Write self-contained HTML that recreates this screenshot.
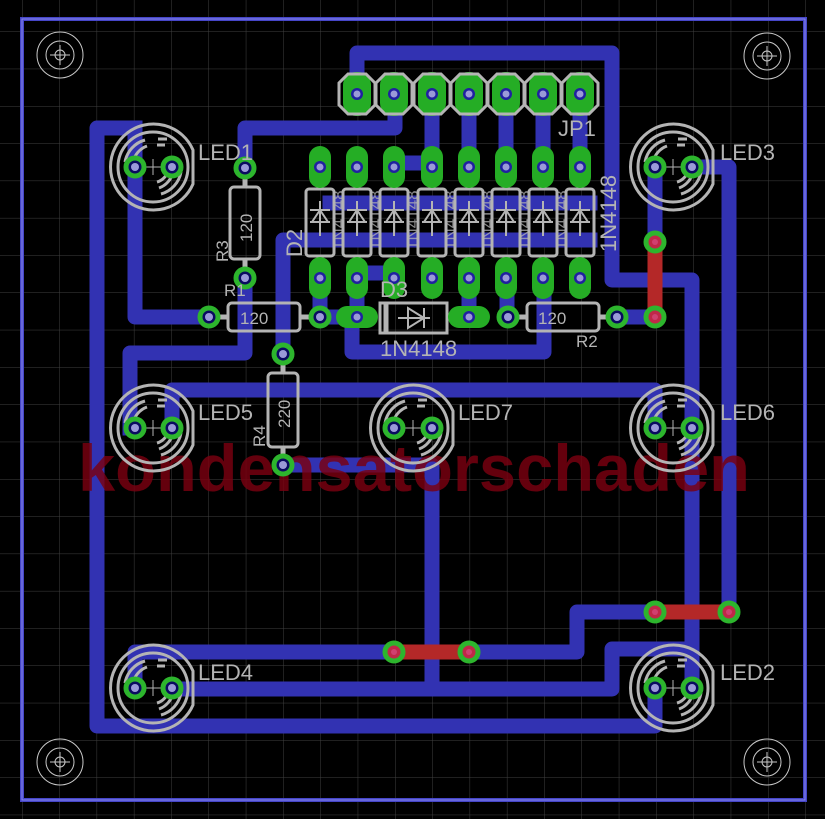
<!DOCTYPE html>
<html><head><meta charset="utf-8"><style>
html,body{margin:0;padding:0;background:#000;}
svg{display:block;}
text{font-family:"Liberation Sans",sans-serif;}
</style></head><body>
<svg width="825" height="819" viewBox="0 0 825 819" xmlns="http://www.w3.org/2000/svg">
<defs>
<pattern id="g" x="22" y="31.4" width="37.3" height="37.3" patternUnits="userSpaceOnUse">
<path d="M0 0V37.3M0 0H37.3" stroke="#404040" stroke-width="1" fill="none"/>
</pattern>
<g id="led" fill="none" stroke="#b4b4b4" stroke-width="3">
<path d="M40 -17 A43 43 0 1 0 40 17 Z"/>
<circle r="35"/>
<path d="M-8 -27 A28 28 0 0 0 -28 -5" /><path d="M-6 -21 A22 22 0 0 0 -20 -5"/>
<path d="M5 -28 L14 -28"/><path d="M4 -22 L12 -22"/>
<path d="M8 27 A28 28 0 0 0 28 5"/><path d="M6 21 A22 22 0 0 0 20 5"/><path d="M4 15 A16 16 0 0 0 15 4"/>
<path d="M-8 0H8M0 -8V8" stroke-width="1"/>
</g>
<g id="hole" fill="none" stroke="#c8c8c8" stroke-width="1">
<circle r="23"/><circle r="14"/><circle r="5"/><path d="M-10 0H10M0 -10V10"/>
</g>
<g id="pad"><circle r="9" fill="#0a0a60" stroke="#2db52d" stroke-width="5"/><circle r="4" fill="#9a9ad8"/></g>
<g id="via"><circle r="9" fill="#c02848" stroke="#2db52d" stroke-width="5"/><circle r="3" fill="#d04070"/></g>
<g id="opad"><rect x="-11" y="-21" width="22" height="42" rx="11" fill="#25ad25"/><circle r="6" fill="#2020a0"/><circle r="3.5" fill="#9a9ad8"/></g>
<g id="hpad"><rect x="-21" y="-11" width="42" height="22" rx="11" fill="#25ad25"/><circle r="6" fill="#2020a0"/><circle r="3.5" fill="#9a9ad8"/></g>
<g id="jpad"><rect x="-14" y="-22" width="28" height="44" rx="13" fill="#25ad25"/><circle r="6" fill="#2020a0"/><circle r="3.5" fill="#9a9ad8"/>
<path d="M-9 -20L9 -20L18 -11L18 11L9 20L-9 20L-18 11L-18 -11Z" fill="none" stroke="#b4b4b4" stroke-width="3"/></g>
<g id="diode" fill="none" stroke="#b4b4b4" stroke-width="3">
<rect x="-14" y="-34" width="28" height="67" rx="3"/>
<path d="M-10 -13H10M0 -13L-8 -1H8Z M-10 -1H10 M0 -22V13" stroke-width="2"/>
</g>
</defs>
<rect width="825" height="819" fill="#000"/>
<rect width="825" height="819" fill="url(#g)"/>
<path d="M22 19H805V800H22Z" fill="none" stroke="#4646c8" stroke-width="4"/>
<path d="M22 19H805V800H22Z" fill="none" stroke="#8888ee" stroke-width="1"/>
<g fill="none" stroke="#3232b2" stroke-width="15" stroke-linejoin="round" stroke-linecap="square">
<path d="M135 128H97V726H655V688"/>
<path d="M135 128V317H209"/>
<path d="M245 167V128H395V95"/>
<path d="M245 278V353H130V428"/>
<path d="M172 428V390H655V428"/>
<path d="M357 95V53H612V280H692V688"/>
<path d="M692 167H729V612"/>
<path d="M655 167V242"/>
<path d="M617 317H655"/>
<path d="M432 95V167M469 95V167M506 95V167M543 95V167M580 95V167"/>
<path d="M283 354V240H590"/>
<path d="M330 203H590"/>
<path d="M283 465H432V689"/>
<path d="M172 689H612V649H692"/>
<path d="M135 688V652H577V612H655"/>
<path d="M320 278V317H340M352 317V352H544V278"/>
<path d="M357 278V317M469 278V317M507 278V317"/>
<path d="M357 273H394"/>
<path d="M394 163H432"/>
</g>
<g stroke="#b42828" stroke-width="15">
<path d="M655 242V317"/><path d="M655 612H729"/><path d="M394 652H469"/>
</g>
<text x="78" y="491" font-size="66" font-weight="bold" fill="#7a0010" fill-opacity="0.82" textLength="672" lengthAdjust="spacingAndGlyphs">kondensatorschaden</text>
<use href="#hole" x="60" y="55"/><use href="#hole" x="767" y="56"/>
<use href="#hole" x="60" y="762"/><use href="#hole" x="767" y="762"/>
<use href="#led" x="153" y="167"/><use href="#led" x="673" y="167"/>
<use href="#led" x="153" y="428"/><use href="#led" x="413" y="428"/><use href="#led" x="673" y="428"/>
<use href="#led" x="153" y="688"/><use href="#led" x="673" y="688"/>
<g>
<use href="#pad" x="135" y="167"/><use href="#pad" x="172" y="167"/>
<use href="#pad" x="655" y="167"/><use href="#pad" x="692" y="167"/>
<use href="#pad" x="135" y="428"/><use href="#pad" x="172" y="428"/>
<use href="#pad" x="394" y="428"/><use href="#pad" x="432" y="428"/>
<use href="#pad" x="655" y="428"/><use href="#pad" x="692" y="428"/>
<use href="#pad" x="135" y="688"/><use href="#pad" x="172" y="688"/>
<use href="#pad" x="655" y="688"/><use href="#pad" x="692" y="688"/>
</g>
<g fill="none" stroke="#b4b4b4" stroke-width="3">
<rect x="230" y="187" width="30" height="72" rx="4"/><path d="M245 177V187M245 259V269" stroke-width="5"/>
<rect x="228" y="303" width="72" height="28" rx="4"/><path d="M218 317H228M300 317H310" stroke-width="5"/>
<rect x="527" y="303" width="72" height="28" rx="4"/><path d="M517 317H527M599 317H609" stroke-width="5"/>
<rect x="268" y="373" width="30" height="74" rx="4"/><path d="M283 363V373M283 447V457" stroke-width="5"/>
<rect x="380" y="303" width="67" height="30"/><path d="M386 303V333" stroke-width="5"/>
<path d="M398 318H430M424 308V328M424 318L408 308V328Z" stroke-width="2"/>
</g>
<use href="#pad" x="245" y="168"/><use href="#pad" x="245" y="278"/>
<use href="#pad" x="209" y="317"/><use href="#pad" x="320" y="317"/>
<use href="#pad" x="508" y="317"/><use href="#pad" x="617" y="317"/>
<use href="#pad" x="283" y="354"/><use href="#pad" x="283" y="465"/>
<use href="#hpad" x="357" y="317"/><use href="#hpad" x="469" y="317"/>
<g>
<use href="#diode" x="320" y="223"/><use href="#diode" x="357" y="223"/><use href="#diode" x="394" y="223"/><use href="#diode" x="432" y="223"/>
<use href="#diode" x="469" y="223"/><use href="#diode" x="506" y="223"/><use href="#diode" x="543" y="223"/><use href="#diode" x="580" y="223"/>
</g>
<g>
<use href="#opad" x="320" y="167"/><use href="#opad" x="357" y="167"/><use href="#opad" x="394" y="167"/><use href="#opad" x="432" y="167"/>
<use href="#opad" x="469" y="167"/><use href="#opad" x="506" y="167"/><use href="#opad" x="543" y="167"/><use href="#opad" x="580" y="167"/>
<use href="#opad" x="320" y="278"/><use href="#opad" x="357" y="278"/><use href="#opad" x="394" y="278"/><use href="#opad" x="432" y="278"/>
<use href="#opad" x="469" y="278"/><use href="#opad" x="506" y="278"/><use href="#opad" x="543" y="278"/><use href="#opad" x="580" y="278"/>
</g>
<g fill="#b4b4b4" font-size="17" opacity="0.75">
<text transform="translate(344 250) rotate(-90)">1N4148</text>
<text transform="translate(381 250) rotate(-90)">1N4148</text>
<text transform="translate(418 250) rotate(-90)">1N4148</text>
<text transform="translate(456 250) rotate(-90)">1N4148</text>
<text transform="translate(493 250) rotate(-90)">1N4148</text>
<text transform="translate(530 250) rotate(-90)">1N4148</text>
<text transform="translate(567 250) rotate(-90)">1N4148</text>
</g>
<g>
<use href="#jpad" x="357" y="94"/><use href="#jpad" x="394" y="94"/><use href="#jpad" x="432" y="94"/><use href="#jpad" x="469" y="94"/>
<use href="#jpad" x="506" y="94"/><use href="#jpad" x="543" y="94"/><use href="#jpad" x="580" y="94"/>
</g>
<use href="#via" x="655" y="242"/><use href="#via" x="655" y="317"/>
<use href="#via" x="655" y="612"/><use href="#via" x="729" y="612"/>
<use href="#via" x="394" y="652"/><use href="#via" x="469" y="652"/>
<g fill="#b4b4b4" font-size="22">
<text x="198" y="160">LED1</text><text x="720" y="160">LED3</text>
<text x="198" y="420">LED5</text><text x="458" y="420">LED7</text><text x="720" y="420">LED6</text>
<text x="198" y="680">LED4</text><text x="720" y="680">LED2</text>
<text x="558" y="136">JP1</text>
<text transform="translate(616 252) rotate(-90)">1N4148</text>
<text transform="translate(302 257) rotate(-90)">D2</text>
<text x="380" y="297">D3</text>
<text x="380" y="356">1N4148</text>
</g>
<g fill="#b4b4b4" font-size="17">
<text x="224" y="296">R1</text>
<text x="576" y="347">R2</text>
<text transform="translate(228 262) rotate(-90)">R3</text>
<text transform="translate(265 447) rotate(-90)">R4</text>
<text transform="translate(252 242) rotate(-90)">120</text>
<text x="240" y="324">120</text>
<text x="538" y="324">120</text>
<text transform="translate(290 428) rotate(-90)">220</text>
</g>
</svg>
</body></html>
